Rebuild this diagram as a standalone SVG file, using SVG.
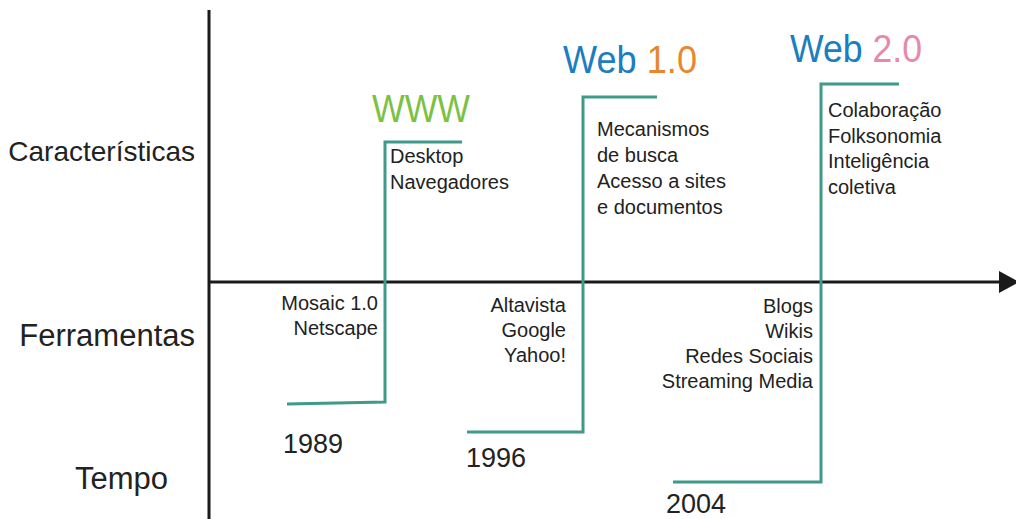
<svg xmlns="http://www.w3.org/2000/svg" width="1016" height="519" viewBox="0 0 1016 519">
<style>
.t{font-family:"Liberation Sans",Arial,sans-serif;fill:#222}
.row{font-size:31px}
.s{font-size:20px}
.yr{font-size:27px}
.hd{font-family:"Liberation Sans",Arial,sans-serif;font-size:38px}
.step{fill:none;stroke:#3f9a8a;stroke-width:3}
.ax{stroke:#1a1a1a;stroke-width:3;fill:none}
.e{text-anchor:end}
</style>
<rect width="1016" height="519" fill="#fff"/>
<g id="axes">
<line class="ax" x1="209" y1="10" x2="209" y2="519"/>
<line class="ax" x1="209" y1="282" x2="1002" y2="282"/>
<polygon points="999,271 1019,282 999,293" fill="#1a1a1a"/>
</g>
<g id="row-labels">
<text class="t e" x="195" y="161" style="font-size:28px">Características</text>
<text class="t row e" x="195" y="346">Ferramentas</text>
<text class="t row e" x="168" y="489">Tempo</text>
</g>
<g id="connectors">
<polyline class="step" points="287,404 385,402 385,142 462,142"/>
<polyline class="step" points="467,432 583,432 583,97 657,97"/>
<polyline class="step" points="673,482 821,482 821,84 899,84"/>
</g>
<g id="node-www">
<text class="hd" x="372" y="122" style="fill:#7dc142" textLength="98" lengthAdjust="spacingAndGlyphs">WWW</text>
<text class="t s" x="390" y="163">Desktop</text>
<text class="t s" x="390" y="189">Navegadores</text>
<text class="t s e" x="378" y="310">Mosaic 1.0</text>
<text class="t s e" x="378" y="335">Netscape</text>
<text class="t yr" x="283" y="453">1989</text>
</g>
<g id="node-web1">
<text class="hd" x="563" y="73" textLength="134" lengthAdjust="spacingAndGlyphs"><tspan fill="#1b7dc2">Web</tspan> <tspan fill="#e8872c">1.0</tspan></text>
<text class="t s" x="597" y="136">Mecanismos</text>
<text class="t s" x="597" y="162">de busca</text>
<text class="t s" x="597" y="188">Acesso a sites</text>
<text class="t s" x="597" y="214">e documentos</text>
<text class="t s e" x="566" y="312">Altavista</text>
<text class="t s e" x="566" y="337">Google</text>
<text class="t s e" x="566" y="362">Yahoo!</text>
<text class="t yr" x="466" y="467">1996</text>
</g>
<g id="node-web2">
<text class="hd" x="790" y="62" textLength="132" lengthAdjust="spacingAndGlyphs"><tspan fill="#1b7dc2">Web</tspan> <tspan fill="#e58aab">2.0</tspan></text>
<text class="t s" x="828" y="117">Colaboração</text>
<text class="t s" x="828" y="143">Folksonomia</text>
<text class="t s" x="828" y="168">Inteligência</text>
<text class="t s" x="828" y="194">coletiva</text>
<text class="t s e" x="813" y="313">Blogs</text>
<text class="t s e" x="813" y="338">Wikis</text>
<text class="t s e" x="813" y="363">Redes Sociais</text>
<text class="t s e" x="813" y="388">Streaming Media</text>
<text class="t yr" x="666" y="513">2004</text>
</g>
</svg>
